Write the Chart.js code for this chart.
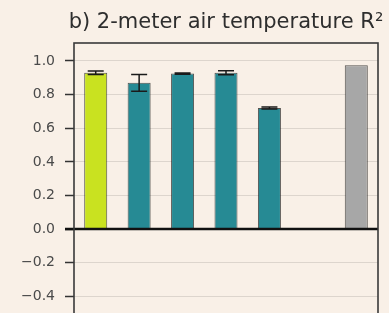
<!DOCTYPE html>
<html>
<head>
<meta charset="utf-8">
<script src="https://cdn.jsdelivr.net/npm/chart.js@4.4.0/dist/chart.umd.min.js"></script>
<style>
  html, body { margin: 0; padding: 0; background: #f9f0e7; overflow: hidden; }
  #wrap { width: 389px; height: 339px; position: relative; }
</style>
</head>
<body>
<div id="wrap"><canvas id="c" width="389" height="339"></canvas></div>
<script>
const titleText = "b) 2-meter air temperature R\u00B2";
const categories = ["A", "B", "C", "D", "E", "F", "G"];
const values = [0.93, 0.87, 0.925, 0.93, 0.72, null, 0.975];
const errors = [0.01, 0.05, 0.004, 0.012, 0.006, null, null];
const barColors = ["#c9e220", "#268a94", "#268a94", "#268a94", "#268a94", "#268a94", "#a7a7a7"];
const tickValues = [-0.6, -0.4, -0.2, 0.0, 0.2, 0.4, 0.6, 0.8, 1.0];
const yMin = -0.6, yMax = 1.107;

const bgPlugin = {
  id: 'bg',
  beforeDraw(chart) {
    const ctx = chart.ctx;
    ctx.save();
    ctx.fillStyle = '#f9f0e7';
    ctx.fillRect(0, 0, chart.width, chart.height);
    ctx.restore();
  }
};

const overlayPlugin = {
  id: 'overlay',
  afterDatasetsDraw(chart) {
    const ctx = chart.ctx;
    const y = chart.scales.y;
    const ca = chart.chartArea;
    const meta = chart.getDatasetMeta(0);
    ctx.save();
    // error bars
    ctx.strokeStyle = '#1a1a1a';
    ctx.lineWidth = 1.5;
    values.forEach((v, i) => {
      if (v === null || errors[i] === null) return;
      const cx = meta.data[i].x;
      const yt = y.getPixelForValue(v + errors[i]);
      const yb = y.getPixelForValue(v - errors[i]);
      ctx.beginPath();
      ctx.moveTo(cx, yt); ctx.lineTo(cx, yb);
      ctx.moveTo(cx - 8, yt); ctx.lineTo(cx + 8, yt);
      ctx.moveTo(cx - 8, yb); ctx.lineTo(cx + 8, yb);
      ctx.stroke();
    });
    // zero line
    const y0 = y.getPixelForValue(0);
    ctx.strokeStyle = '#111';
    ctx.lineWidth = 2.5;
    ctx.beginPath();
    ctx.moveTo(ca.left - 9, y0); ctx.lineTo(ca.right, y0);
    ctx.stroke();
    // frame
    ctx.strokeStyle = '#3a3a3a';
    ctx.lineWidth = 1.6;
    ctx.strokeRect(ca.left, ca.top, ca.right - ca.left, ca.bottom - ca.top);
    // title
    ctx.fillStyle = '#2e2e2e';
    ctx.font = '21px "DejaVu Sans"';
    ctx.textAlign = 'center';
    ctx.textBaseline = 'alphabetic';
    ctx.fillText(titleText, (ca.left + ca.right) / 2, 28);
    ctx.restore();
  }
};

new Chart(document.getElementById('c'), {
  type: 'bar',
  data: {
    labels: categories,
    datasets: [{
      data: values,
      backgroundColor: barColors,
      borderColor: 'rgba(30,30,30,0.75)',
      borderWidth: 1,
      barPercentage: 0.53,
      categoryPercentage: 1.0
    }]
  },
  options: {
    responsive: false,
    animation: false,
    devicePixelRatio: 1,
    layout: { padding: { top: 43, right: 11, bottom: 9, left: 0 } },
    plugins: { legend: { display: false }, title: { display: false }, tooltip: { enabled: false } },
    scales: {
      x: { display: false, offset: true },
      y: {
        min: yMin, max: yMax,
        afterFit(scale) { scale.width = 74; scale.paddingTop = 0; scale.paddingBottom = 0; },
        afterBuildTicks(scale) { scale.ticks = tickValues.map(v => ({ value: v })); },
        border: { display: false },
        grid: {
          color: 'rgba(0,0,0,0.11)',
          lineWidth: 1,
          tickColor: '#333',
          tickLength: 9,
          tickWidth: 1.5
        },
        ticks: {
          color: '#4a4a4a',
          padding: 10,
          font: { family: 'DejaVu Sans', size: 14 },
          callback: (v) => (v < 0 ? '\u2212' : '') + Math.abs(v).toFixed(1)
        }
      }
    }
  },
  plugins: [bgPlugin, overlayPlugin]
});
</script>
</body>
</html>
